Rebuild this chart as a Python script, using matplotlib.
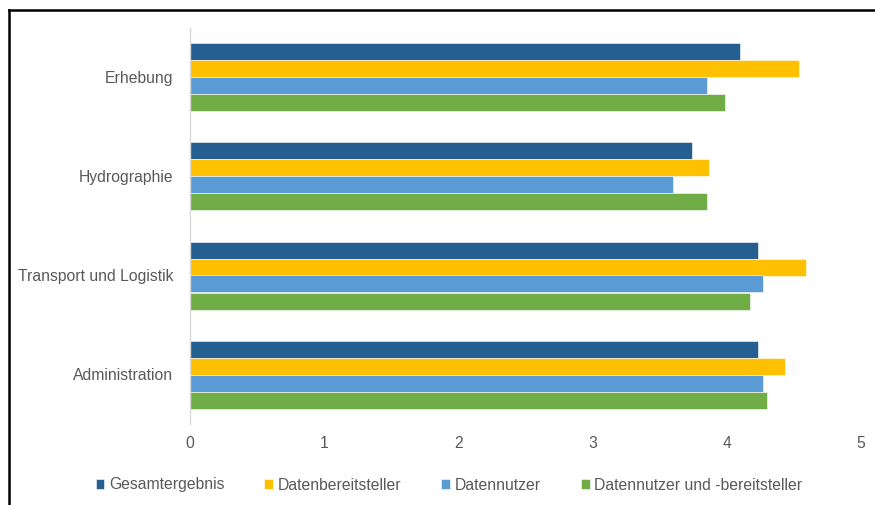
import matplotlib
matplotlib.use("Agg")
import matplotlib.pyplot as plt
from matplotlib.lines import Line2D
import numpy as np

plt.rcParams['font.family'] = ['Liberation Sans', 'DejaVu Sans']

categories = ["Erhebung", "Hydrographie", "Transport und Logistik", "Administration"]
series_names = ["Gesamtergebnis", "Datenbereitsteller", "Datennutzer", "Datennutzer und -bereitsteller"]
gesamt = [4.10, 3.74, 4.23, 4.23]
bereitsteller = [4.54, 3.87, 4.59, 4.43]
nutzer = [3.85, 3.60, 4.27, 4.27]
beides = [3.99, 3.85, 4.17, 4.30]
x_ticks = [0, 1, 2, 3, 4, 5]
colors = ["#255E91", "#FFC000", "#5B9BD5", "#70AD47"]

W, H = 875, 505
fig = plt.figure(figsize=(W / 100, H / 100), dpi=100)
ax = fig.add_axes([190 / W, 1 - 424 / H, (861 - 190) / W, 396 / H])

data = [gesamt, bereitsteller, nutzer, beides]
bh = 17 / 99
y = np.arange(len(categories))
for i, (vals, name, c) in enumerate(zip(data, series_names, colors)):
    offs = (i - 1.5) * bh
    ax.barh(y + offs, vals, height=bh, color=c, label=name,
            edgecolor="white", linewidth=0.4)

ax.set_ylim(len(categories) - 0.5, -0.5)
ax.set_xlim(0, 5)
ax.set_xticks(x_ticks)
ax.set_yticks(y)
ax.set_yticklabels(categories)
txtc = "#595959"
fs = 11.3
ax.tick_params(axis='both', length=0, colors=txtc, labelsize=fs)
ax.tick_params(axis='x', pad=9)
ax.tick_params(axis='y', pad=12)
for s in ["top", "right", "bottom"]:
    ax.spines[s].set_visible(False)
ax.spines["left"].set_color("#D9D9D9")
ax.spines["left"].set_linewidth(1)

handles, labels = ax.get_legend_handles_labels()
fig.legend(handles, labels, loc="center", ncol=4, frameon=False,
           bbox_to_anchor=(449 / W, 1 - 485 / H), fontsize=fs,
           handlelength=0.55, handleheight=0.55, handletextpad=0.3,
           columnspacing=2.55, labelcolor=txtc)

# frame lines
fig.add_artist(Line2D([8.5 / W, 8.5 / W], [0, 1 - 9.5 / H], color="black", lw=1.8, transform=fig.transFigure))
fig.add_artist(Line2D([8.5 / W, 1], [1 - 9.5 / H, 1 - 9.5 / H], color="black", lw=1.8, transform=fig.transFigure))

fig.savefig("out.png", dpi=100)
